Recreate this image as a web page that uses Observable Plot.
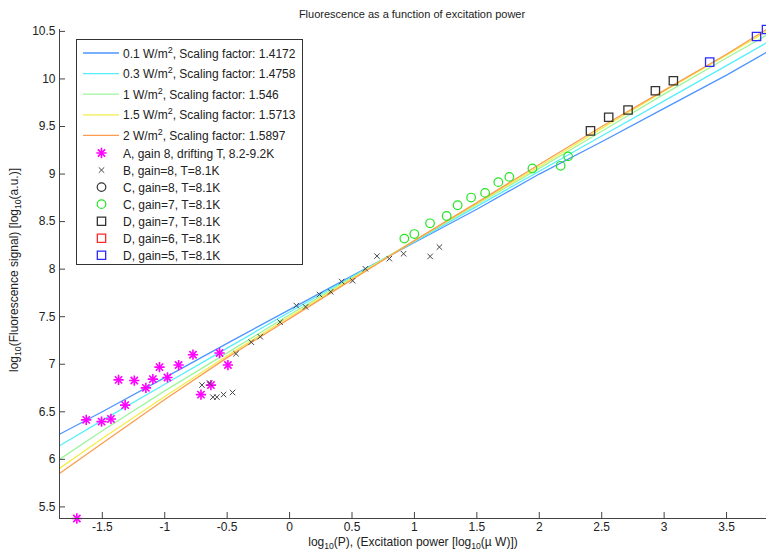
<!DOCTYPE html>
<html><head><meta charset="utf-8">
<script src="https://cdn.jsdelivr.net/npm/d3@7"></script>
<script src="https://cdn.jsdelivr.net/npm/@observablehq/plot@0.6"></script>
<style>body{margin:0;background:#fff} svg{display:block;font-family:"Liberation Sans",Arial,sans-serif}</style>
</head><body><div id="chart"></div>
<script>
// ---- data ----
const xTicks = [-1.5, -1, -0.5, 0, 0.5, 1, 1.5, 2, 2.5, 3, 3.5];
const yTicks = [5.5, 6, 6.5, 7, 7.5, 8, 8.5, 9, 9.5, 10, 10.5];
const modelX = [-1.843, -1.5, -1, -0.5, 0, 0.5, 1, 1.5, 2, 2.5, 3, 3.5, 3.82];
const model01 = [6.264, 6.50, 6.86, 7.22, 7.575, 7.93, 8.28, 8.63, 9.00, 9.34, 9.69, 10.04, 10.28];
const model03 = [6.143, 6.41, 6.79, 7.17, 7.55, 7.92, 8.29, 8.66, 9.03, 9.40, 9.77, 10.14, 10.38];
const model1  = [6.000, 6.30, 6.72, 7.12, 7.52, 7.91, 8.30, 8.68, 9.06, 9.45, 9.84, 10.22, 10.46];
const model15 = [5.905, 6.22, 6.66, 7.09, 7.50, 7.90, 8.30, 8.69, 9.08, 9.48, 9.87, 10.25, 10.50];
const model2  = [5.852, 6.17, 6.63, 7.07, 7.48, 7.89, 8.30, 8.70, 9.10, 9.50, 9.88, 10.26, 10.52];
const powerLabels = ["0.1", "0.3", "1", "1.5", "2"];
const scalingFactors = ["1.4172", "1.4758", "1.546", "1.5713", "1.5897"];
const modelColors = ["#4d94ff", "#55eefa", "#9ef59e", "#f2ee4a", "#fb9c50"];

const aX = [-1.629, -1.506, -1.431, -1.317, -1.370, -1.244, -1.151, -1.095, -1.042, -0.978, -0.889, -0.774, -0.561, -0.494, -0.710, -0.630, -1.704];
const aY = [6.415, 6.397, 6.425, 6.570, 6.836, 6.829, 6.752, 6.844, 6.970, 6.861, 6.992, 7.100, 7.118, 6.992, 6.681, 6.781, 5.378];
const bX = [-0.702, -0.641, -0.614, -0.582, -0.529, -0.457, -0.429, -0.307, -0.235, -0.076, 0.054, 0.128, 0.240, 0.329, 0.417, 0.505, 0.607, 0.700, 0.799, 0.913, 1.126, 1.200];
const bY = [6.781, 6.802, 6.654, 6.654, 6.681, 6.703, 7.111, 7.232, 7.290, 7.443, 7.617, 7.603, 7.733, 7.762, 7.870, 7.878, 8.004, 8.137, 8.110, 8.162, 8.134, 8.232];
const c8X = [];
const c8Y = [];
const c7X = [0.919, 0.999, 1.125, 1.258, 1.346, 1.454, 1.566, 1.672, 1.760, 1.945, 2.171, 2.231];
const c7Y = [8.321, 8.369, 8.482, 8.559, 8.672, 8.753, 8.802, 8.915, 8.970, 9.059, 9.087, 9.186];
const d7X = [2.410, 2.556, 2.711, 2.930, 3.074];
const d7Y = [9.454, 9.597, 9.674, 9.876, 9.981];
const d6X = [];
const d6Y = [];
const d5X = [3.365, 3.740, 3.820];
const d5Y = [10.177, 10.447, 10.520];
const markerLabels = ["A, gain 8, drifting T, 8.2-9.2K", "B, gain=8, T=8.1K", "C, gain=8, T=8.1K", "C, gain=7, T=8.1K", "D, gain=7, T=8.1K", "D, gain=6, T=8.1K", "D, gain=5, T=8.1K"];
const markerColors = ["#ff00ff", "#444444", "#333333", "#22e622", "#333333", "#ff2a2a", "#2a2aff"];

const title = "Fluorescence as a function of excitation power";
const xDomain = [-1.843, 3.82];
const yDomain = [5.378, 10.52];

// ---- build tables ----
const models = [model01, model03, model1, model15, model2];
const pts = (xs, ys) => xs.map((x, i) => ({x, y: ys[i]}));
const font = '"Liberation Sans",Arial,sans-serif';

const chart = Plot.plot({
  width: 766, height: 552,
  marginLeft: 59, marginRight: 0, marginTop: 29, marginBottom: 34,
  style: {fontFamily: font, fontSize: "12px", color: "#222", background: "#fff"},
  x: {domain: xDomain},
  y: {domain: yDomain},
  marks: [
    ...models.map((m, k) => Plot.line(pts(modelX, m), {x: "x", y: "y", stroke: modelColors[k], strokeWidth: 1.3})),
    Plot.dot(pts(aX, aY), {x: "x", y: "y", symbol: "plus", r: 3.4, stroke: markerColors[0], strokeWidth: 1.6}),
    Plot.dot(pts(aX, aY), {x: "x", y: "y", symbol: "times", r: 3.4, stroke: markerColors[0], strokeWidth: 1.6}),
    Plot.dot(pts(bX, bY), {x: "x", y: "y", symbol: "times", r: 2.6, stroke: markerColors[1], strokeWidth: 1}),
    Plot.dot(pts(c8X, c8Y), {x: "x", y: "y", symbol: "circle", r: 4.3, stroke: markerColors[2], strokeWidth: 1.2}),
    Plot.dot(pts(c7X, c7Y), {x: "x", y: "y", symbol: "circle", r: 4.3, stroke: markerColors[3], strokeWidth: 1.2}),
    Plot.dot(pts(d7X, d7Y), {x: "x", y: "y", symbol: "square", r: 4.7, stroke: markerColors[4], strokeWidth: 1.3}),
    Plot.dot(pts(d6X, d6Y), {x: "x", y: "y", symbol: "square", r: 4.7, stroke: markerColors[5], strokeWidth: 1.3}),
    Plot.dot(pts(d5X, d5Y), {x: "x", y: "y", symbol: "square", r: 4.7, stroke: markerColors[6], strokeWidth: 1.3}),
    Plot.ruleX([xDomain[0]], {stroke: "#444"}),
    Plot.ruleY([yDomain[0]], {stroke: "#444"}),
    Plot.axisX({ticks: xTicks, text: null, tickSize: 6, dy: -6, stroke: "#444", label: null}),
    Plot.axisY({ticks: yTicks, text: null, tickSize: 6, dx: 6, stroke: "#444", label: null}),
    Plot.axisX({ticks: xTicks, tickSize: 0, tickPadding: 4, tickFormat: d => String(d), fill: "#222", label: null}),
    Plot.axisY({ticks: yTicks, tickSize: 0, tickPadding: 4, tickFormat: d => String(d), fill: "#222", label: null})
  ]
});
document.getElementById("chart").appendChild(chart);

// ---- title, axis labels, legend ----
const svg = d3.select(chart);
svg.append("text").attr("x", 412).attr("y", 18).attr("text-anchor", "middle")
  .attr("font-size", 11).attr("fill", "#222").text(title);

function withSub(sel, parts) {
  parts.forEach(([t, kind]) => {
    const ts = sel.append("tspan").text(t);
    if (kind === "sub") ts.attr("baseline-shift", "-2.5").attr("font-size", "0.72em");
    if (kind === "sup") ts.attr("baseline-shift", "super").attr("font-size", "0.75em");
  });
}
const xl = svg.append("text").attr("x", 413).attr("y", 546).attr("text-anchor", "middle").attr("font-size", 12).attr("fill", "#222");
withSub(xl, [["log", null], ["10", "sub"], ["(P), (Excitation power [log", null], ["10", "sub"], ["(\u00b5 W)])", null]]);
const yl = svg.append("text").attr("transform", "translate(18,270) rotate(-90)").attr("text-anchor", "middle").attr("font-size", 12).attr("fill", "#222");
withSub(yl, [["log", null], ["10", "sub"], ["(Fluorescence signal) [log", null], ["10", "sub"], ["(a.u.)]", null]]);

const lg = svg.append("g").attr("text-anchor", "start");
lg.append("rect").attr("x", 76.5).attr("y", 39.5).attr("width", 226).attr("height", 225)
  .attr("fill", "#fff").attr("stroke", "#333");
powerLabels.forEach((p, i) => {
  const y = 53 + i * 20.6;
  lg.append("line").attr("x1", 83).attr("x2", 119).attr("y1", y).attr("y2", y)
    .attr("stroke", modelColors[i]).attr("stroke-width", 1.3);
  const t = lg.append("text").attr("x", 123).attr("y", y + 4.5).attr("text-anchor", "start").attr("font-size", 12).attr("fill", "#222");
  withSub(t, [[p + " W/m", null], ["2", "sup"], [", Scaling factor: " + scalingFactors[i], null]]);
});
const symTypes = [[d3.symbolPlus, d3.symbolTimes], [d3.symbolTimes], [d3.symbolCircle], [d3.symbolCircle], [d3.symbolSquare], [d3.symbolSquare], [d3.symbolSquare]];
const symR = [3.4, 2.6, 4.3, 4.3, 4.7, 4.7, 4.7];
const symW = [1.6, 1, 1.2, 1.2, 1.3, 1.3, 1.3];
markerLabels.forEach((lab, j) => {
  const y = 153 + j * 17.05;
  symTypes[j].forEach(tp => {
    lg.append("path").attr("transform", `translate(101.5,${y})`)
      .attr("d", d3.symbol(tp, Math.PI * symR[j] * symR[j])())
      .attr("fill", "none").attr("stroke", markerColors[j]).attr("stroke-width", symW[j]);
  });
  lg.append("text").attr("x", 123).attr("y", y + 4.5).attr("text-anchor", "start").attr("font-size", 12).attr("fill", "#222").text(lab);
});
</script>
</body></html>
